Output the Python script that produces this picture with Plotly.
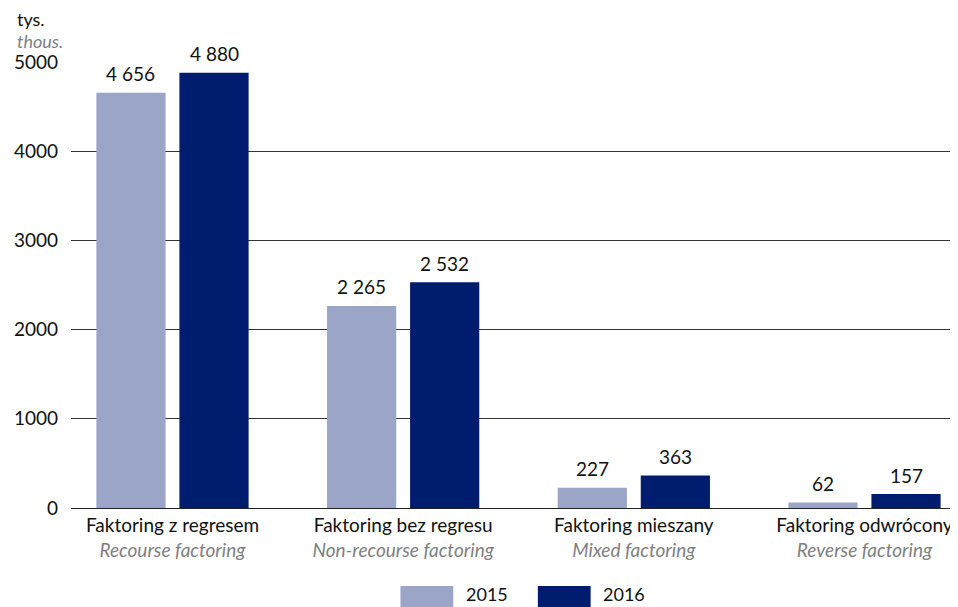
import plotly.graph_objects as go

categories_pl = ["Faktoring z regresem", "Faktoring bez regresu", "Faktoring mieszany", "Faktoring odwrócony"]
categories_en = ["Recourse factoring", "Non-recourse factoring", "Mixed factoring", "Reverse factoring"]
values_2015 = [4656, 2265, 227, 62]
values_2016 = [4880, 2532, 363, 157]
series_names = ["2015", "2016"]
y_ticks = [0, 1000, 2000, 3000, 4000, 5000]

FONT = "Lato"
FS = 19
C_LIGHT = "#9aa5c8"
C_DARK = "#001c6e"

def fmt(v):
    return f"{v:,}".replace(",", " ")

xs = list(range(len(categories_pl)))
WIDTH = 0.30
series = [(series_names[0], values_2015, C_LIGHT, -0.33), (series_names[1], values_2016, C_DARK, 0.03)]

fig = go.Figure()
annotations = []
for name, vals, col, off in series:
    fig.add_trace(go.Bar(
        x=xs, y=vals, name=name, marker=dict(color=col, line=dict(width=0)),
        width=WIDTH, offset=off, showlegend=False, hoverinfo="x+y",
    ))
    for x, v in zip(xs, vals):
        annotations.append(dict(text=fmt(v), x=x + off + WIDTH / 2, y=v, xref="x", yref="y",
                                yanchor="middle", yshift=19, showarrow=False,
                                font=dict(family=FONT, size=FS, color="#111")))

ticktext = [f"{p}<br><i><span style='color:#7f7f7f'>{e}</span></i>" for p, e in zip(categories_pl, categories_en)]

annotations += [
    dict(text="tys.", xref="paper", yref="paper", x=-0.064, y=1.096, xanchor="left", yanchor="middle",
         showarrow=False, font=dict(family=FONT, size=18, color="#111")),
    dict(text="<i>thous.</i>", xref="paper", yref="paper", x=-0.064, y=1.048, xanchor="left", yanchor="middle",
         showarrow=False, font=dict(family=FONT, size=18, color="#808080")),
]

# Manual legend with wide swatches
legend_items = [(series_names[0], C_LIGHT, 0.3744, 0.4468), (series_names[1], C_DARK, 0.5305, 0.6018)]
shapes = []
for name, col, x0, tx in legend_items:
    shapes.append(dict(type="rect", xref="paper", yref="paper", x0=x0, x1=x0 + 0.06, y0=-0.24, y1=-0.175,
                       fillcolor=col, line=dict(width=0)))
    annotations.append(dict(text=name, xref="paper", yref="paper", x=tx, y=-0.192, xanchor="left", yanchor="middle",
                            showarrow=False, font=dict(family=FONT, size=18, color="#111")))

# page body has an 8px default margin, so the figure is 950x599 to fill the 958x607 window
fig.update_layout(
    width=950, height=599,
    margin=dict(l=60, r=6, t=54, b=99),
    paper_bgcolor="white", plot_bgcolor="white",
    font=dict(family=FONT, size=FS, color="#111"),
    barmode="overlay",
    xaxis=dict(tickmode="array", tickvals=xs, ticktext=ticktext, range=[-0.44, 3.375],
               showgrid=False, showline=True, linecolor="#222", linewidth=1.3,
               ticks="", tickfont=dict(family=FONT, size=FS, color="#111"), fixedrange=True),
    yaxis=dict(range=[0, 5000], tickvals=y_ticks, showgrid=True, gridcolor="#333", gridwidth=1,
               zeroline=False, showline=False, ticks="", ticklabelstandoff=12,
               tickfont=dict(family=FONT, size=FS, color="#111")),
    annotations=annotations,
    shapes=shapes,
)

fig.write_html("out.html")
